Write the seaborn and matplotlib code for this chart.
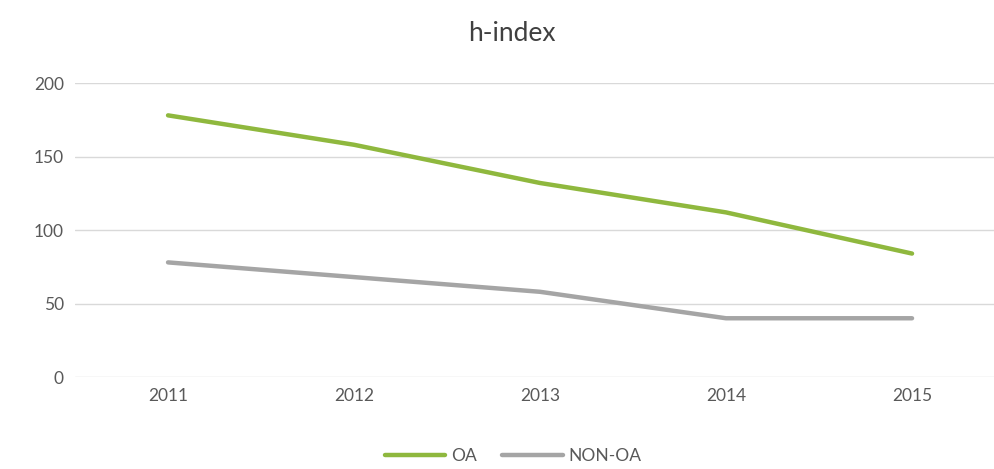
import pandas as pd
import matplotlib.pyplot as plt
import seaborn as sns

years = ['2011', '2012', '2013', '2014', '2015']
oa = [178, 158, 132, 112, 84]
non_oa = [78, 68, 58, 40, 40]

df = pd.DataFrame({
    'year': years * 2,
    'h': oa + non_oa,
    'group': ['OA'] * 5 + ['NON-OA'] * 5,
})

sns.set_style('white')
plt.rcParams['font.family'] = ['Lato', 'DejaVu Sans']

fig = plt.figure(figsize=(9.94, 4.69), dpi=100)
ax = fig.add_axes([0.0755, 0.196, 0.9356, 0.627])

sns.lineplot(data=df, x='year', y='h', hue='group', ax=ax,
             palette={'OA': '#8fb83e', 'NON-OA': '#a5a5a5'},
             linewidth=3.2, sort=False)

ax.set_xlim(-0.5, 4.5)
ax.set_ylim(0, 200)
ax.set_yticks([0, 50, 100, 150, 200])
ax.grid(axis='y', color='#d9d9d9', linewidth=1)
ax.set_axisbelow(True)
for s in ax.spines.values():
    s.set_visible(False)
ax.tick_params(axis='both', length=0, labelsize=12.5, colors='#595959', pad=8)
ax.set_xlabel('')
ax.set_ylabel('')

fig.suptitle('h-index', x=0.515, y=0.955, fontsize=19, color='#404040')

handles, labels = ax.get_legend_handles_labels()
ax.legend(handles, labels, loc='lower center', bbox_to_anchor=(0.471, -0.35),
          ncol=2, frameon=False, fontsize=12.5, labelcolor='#595959',
          handlelength=3.5, handletextpad=0.3, columnspacing=1.5)

fig.savefig('out.png', dpi=100)
